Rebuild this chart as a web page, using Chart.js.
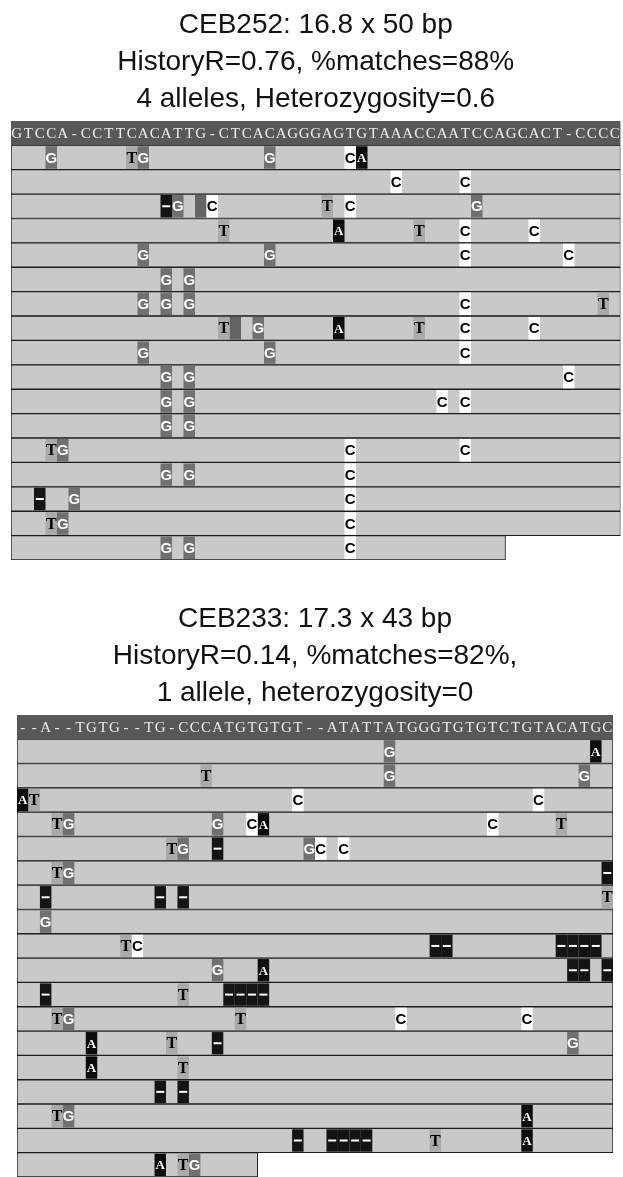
<!DOCTYPE html>
<html>
<head>
<meta charset="utf-8">
<script src="https://cdn.jsdelivr.net/npm/chart.js@4.4.1/dist/chart.umd.min.js"></script>
<style>
  body { margin: 0; background: #fff; }
  canvas { display: block; }
</style>
</head>
<body>
<canvas id="ceb252" width="623" height="565"></canvas>
<canvas id="ceb233" width="623" height="612"></canvas>
<script>
// CEB252 panel
const ceb252Title = ['CEB252: 16.8 x 50 bp', 'HistoryR=0.76, %matches=88%', '4 alleles, Heterozygosity=0.6'];
const ceb252Ref = 'GTCCA-CCTTCACATTG-CTCACAGGGAGTGTAAACCAATCCAGCACT-CCCC';
const ceb252Lengths = [53, 53, 53, 53, 53, 53, 53, 53, 53, 53, 53, 53, 53, 53, 53, 53, 43];
// each token = column index + base shown in that read
const ceb252Reads = [
    ['3G', '10T', '11G', '22G', '29C', '30A'],
    ['33C', '39C'],
    ['13-', '14G', '16#', '17C', '27T', '29C', '40G'],
    ['18T', '28A', '35T', '39C', '45C'],
    ['11G', '22G', '39C', '48C'],
    ['13G', '15G'],
    ['11G', '13G', '15G', '39C', '51T'],
    ['18T', '19#', '21G', '28A', '35T', '39C', '45C'],
    ['11G', '22G', '39C'],
    ['13G', '15G', '48C'],
    ['13G', '15G', '37C', '39C'],
    ['13G', '15G'],
    ['3T', '4G', '29C', '39C'],
    ['13G', '15G', '29C'],
    ['2-', '5G', '29C'],
    ['3T', '4G', '29C'],
    ['13G', '15G', '29C']
];

// CEB233 panel
const ceb233Title = ['CEB233: 17.3 x 43 bp', 'HistoryR=0.14, %matches=82%,', '1 allele, heterozygosity=0'];
const ceb233Ref = '--A--TGTG--TG-CCCATGTGTGT--ATATTATGGGTGTGTCTGTACATGC';
const ceb233Lengths = [52, 52, 52, 52, 52, 52, 52, 52, 52, 52, 52, 52, 52, 52, 52, 52, 52, 21];
const ceb233Reads = [
    ['32G', '50A'],
    ['16T', '32G', '49G'],
    ['0A', '1T', '24C', '45C'],
    ['3T', '4G', '17G', '20C', '21A', '41C', '47T'],
    ['13T', '14G', '17-', '25G', '26C', '28C'],
    ['3T', '4G', '51-'],
    ['2-', '12-', '14-', '51T'],
    ['2G'],
    ['9T', '10C', '36-', '37-', '47-', '48-', '49-', '50-'],
    ['17G', '21A', '48-', '49-', '51-'],
    ['2-', '14T', '18-', '19-', '20-', '21-'],
    ['3T', '4G', '19T', '33C', '44C'],
    ['6A', '13T', '17-', '48G'],
    ['6A', '14T'],
    ['12-', '14-'],
    ['3T', '4G', '44A'],
    ['24-', '27-', '28-', '29-', '30-', '36T', '44A'],
    ['12A', '14T', '15G']
];

const baseStyle = {
    'G': { bg: '#707070', fg: '#ffffff', font: 'bold 15px "Liberation Sans"' },
    'T': { bg: '#aaaaaa', fg: '#000000', font: 'bold 16px "Liberation Serif"' },
    'C': { bg: '#ffffff', fg: '#000000', font: 'bold 15px "Liberation Sans"' },
    'A': { bg: '#0c0c0c', fg: '#ffffff', font: 'bold 13px "Liberation Serif"' },
    '-': { bg: '#141414', fg: '#ffffff' },
    '#': { bg: '#646464', fg: null }
};

function parseToken(tok) {
    const col = parseInt(tok, 10);
    return { col: col, base: tok.slice(String(col).length) };
}

// draws the reference text and the letters inside the variant cells
function lettersPlugin(ref, reads) {
    return {
        id: 'readLetters',
        afterDatasetsDraw: (chart) => {
            const { ctx } = chart;
            const x = chart.scales.x;
            const y = chart.scales.y;
            ctx.save();
            ctx.textAlign = 'center';
            ctx.textBaseline = 'middle';
            ctx.fillStyle = '#ececec';
            ctx.font = '15px "Liberation Serif"';
            ref.split('').forEach((ch, i) => {
                ctx.fillText(ch, x.getPixelForValue(i + 0.5), y.getPixelForValue(0) + 1);
            });
            reads.forEach((tokens, r) => {
                const cy = y.getPixelForValue(r + 1);
                tokens.forEach(tok => {
                    const { col, base } = parseToken(tok);
                    const st = baseStyle[base];
                    const cx = x.getPixelForValue(col + 0.5);
                    if (base === '-') {
                        ctx.fillStyle = st.fg;
                        ctx.fillRect(cx - 4, cy - 1, 8, 2);
                    } else if (st.fg) {
                        ctx.fillStyle = st.fg;
                        ctx.font = st.font;
                        ctx.fillText(base, cx, cy + 1);
                    }
                });
            });
            ctx.restore();
        }
    };
}

function makePanel(canvasId, title, ref, lengths, reads, pad) {
    const labels = ['ref'].concat(lengths.map((_, i) => 'read' + (i + 1)));
    const ncols = ref.length;

    const datasets = [];
    datasets.push({
        label: 'reads',
        data: lengths.map((len, i) => ({ x: [0, len], y: labels[i + 1] })),
        backgroundColor: '#c9c9c9',
        borderColor: '#1c1c1c',
        borderWidth: 1,
        borderSkipped: false,
        barPercentage: 1,
        categoryPercentage: 1,
        order: 3
    });
    datasets.push({
        label: 'reference',
        data: [{ x: [0, ncols], y: 'ref' }],
        backgroundColor: '#585858',
        borderWidth: 0,
        barPercentage: 1,
        categoryPercentage: 1,
        order: 2
    });
    Object.keys(baseStyle).forEach(base => {
        const cells = [];
        reads.forEach((tokens, r) => {
            tokens.forEach(tok => {
                const t = parseToken(tok);
                if (t.base === base) cells.push({ x: [t.col, t.col + 1], y: labels[r + 1] });
            });
        });
        datasets.push({
            label: base,
            data: cells,
            backgroundColor: baseStyle[base].bg,
            borderWidth: 0,
            barPercentage: 0.92,
            categoryPercentage: 1,
            order: 1
        });
    });

    return new Chart(document.getElementById(canvasId), {
        type: 'bar',
        data: { labels: labels, datasets: datasets },
        options: {
            indexAxis: 'y',
            responsive: false,
            animation: false,
            grouped: false,
            layout: { padding: { left: pad.left, right: pad.right, top: 0, bottom: pad.bottom } },
            scales: {
                x: { type: 'linear', min: 0, max: ncols, display: false },
                y: { type: 'category', offset: true, display: false }
            },
            plugins: {
                legend: { display: false },
                tooltip: { enabled: false },
                title: {
                    display: true,
                    text: title,
                    color: '#111111',
                    font: { family: '"Liberation Sans", Arial, sans-serif', size: 28, weight: 'normal', lineHeight: 1.32 },
                    padding: { top: pad.titleTop, bottom: 3.5 }
                }
            }
        },
        plugins: [lettersPlugin(ref, reads)]
    });
}

makePanel('ceb252', ceb252Title, ceb252Ref, ceb252Lengths, ceb252Reads,
    { left: 11, right: 2.5, bottom: 5, titleTop: 6.5 });
makePanel('ceb233', ceb233Title, ceb233Ref, ceb233Lengths, ceb233Reads,
    { left: 17, right: 10, bottom: 0, titleTop: 35.5 });
</script>
</body>
</html>
